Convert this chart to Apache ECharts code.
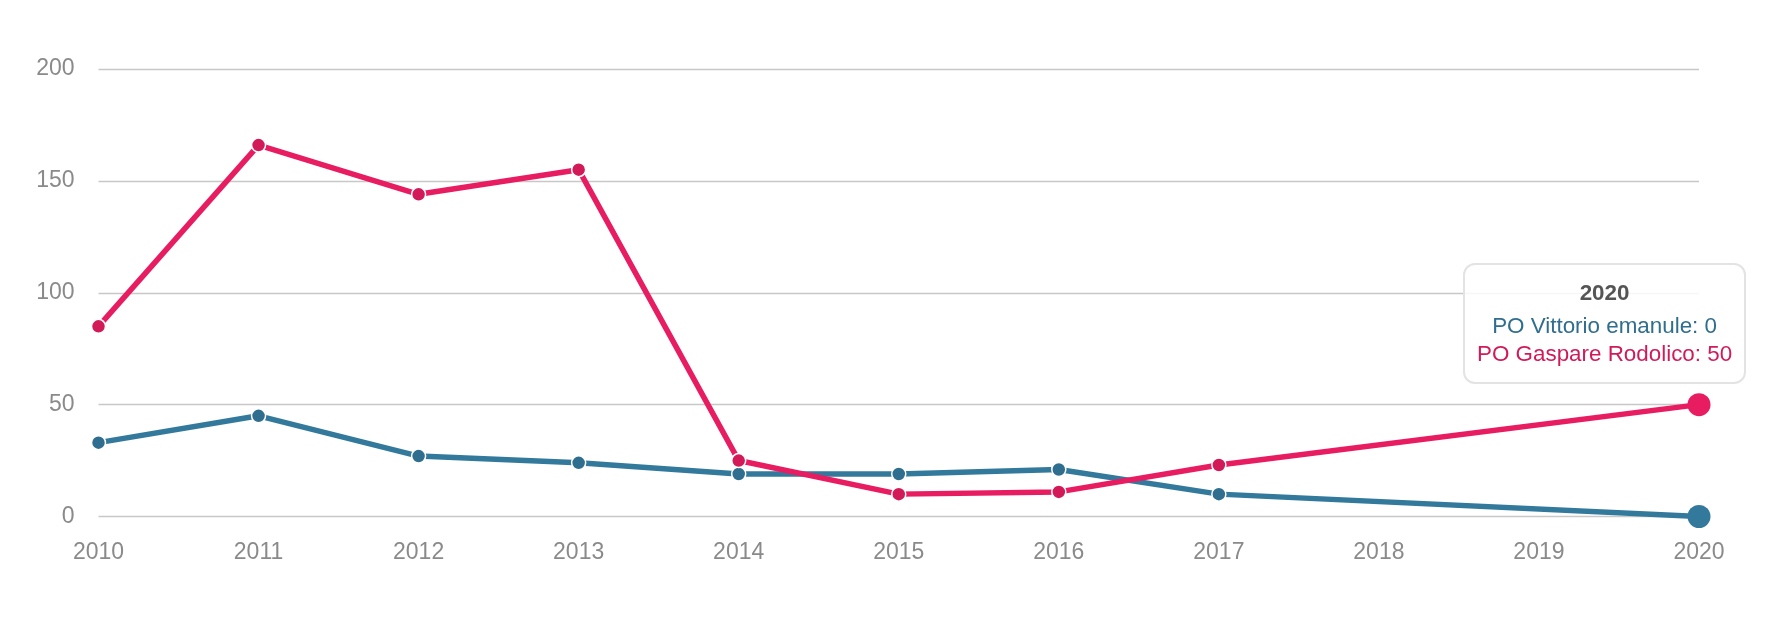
<!DOCTYPE html>
<html>
<head>
<meta charset="utf-8">
<script src="https://cdn.jsdelivr.net/npm/echarts@6/dist/echarts.min.js"></script>
<style>
html,body{margin:0;padding:0;background:#fff;}
#chart{width:1776px;height:633px;}
</style>
</head>
<body>
<div id="chart"></div>
<script>
const years = ['2010','2011','2012','2013','2014','2015','2016','2017','2018','2019','2020'];
const vittorio = [33, 45, 27, 24, 19, 19, 21, 10, null, null, 0];
const gaspare = [85, 166, 144, 155, 25, 10, 11, 23, null, null, 50];
const seriesNames = ['PO Vittorio emanule', 'PO Gaspare Rodolico'];
const seriesColors = ['#2f6e8e', '#d31a59'];
const yTicks = [0, 50, 100, 150, 200];
const tipIndex = 10;

const FONT = '"Liberation Sans", Arial, sans-serif';

function buildData(arr, color) {
  return arr.map((v, i) => {
    if (i === tipIndex) {
      return { value: v, symbolSize: 23, itemStyle: { color: color, borderWidth: 0 } };
    }
    return v;
  });
}

const chart = echarts.init(document.getElementById('chart'), null, { renderer: 'canvas' });
const option = {
  animation: false,
  textStyle: { fontFamily: FONT },
  grid: { left: 98.5, right: 77, top: 69, bottom: 116.5, containLabel: false },
  tooltip: {
    trigger: 'axis',
    alwaysShowContent: true,
    axisPointer: { type: 'none' },
    backgroundColor: 'rgba(255,255,255,0.85)',
    borderColor: '#e3e3e3',
    borderWidth: 2,
    borderRadius: 12,
    padding: [14, 12],
    extraCssText: 'box-shadow:none;text-align:center;',
    position: function () { return [1463, 263]; },
    formatter: function (params) {
      let s = '<div style="font-family:' + FONT.replace(/"/g, "'") + ';font-size:22.4px;line-height:28px;text-align:center;">';
      s += '<div style="font-weight:bold;color:#555;margin-bottom:5px;">' + params[0].axisValue + '</div>';
      params.forEach(p => {
        s += '<div style="color:' + seriesColors[p.seriesIndex] + ';">' + p.seriesName + ': ' + p.value + '</div>';
      });
      s += '</div>';
      return s;
    }
  },
  xAxis: {
    type: 'category',
    data: years,
    boundaryGap: false,
    axisLine: { show: false },
    axisTick: { show: false },
    axisLabel: { color: '#8a8a8a', fontSize: 23, margin: 25, fontFamily: FONT },
    splitLine: { show: false }
  },
  yAxis: {
    type: 'value',
    min: yTicks[0],
    max: yTicks[yTicks.length - 1],
    interval: 50,
    axisLine: { show: false },
    axisTick: { show: false },
    axisLabel: { color: '#8a8a8a', fontSize: 23, margin: 24, fontFamily: FONT },
    splitLine: { lineStyle: { color: '#c8c8c8', width: 1.3 } }
  },
  series: [
    {
      name: seriesNames[0],
      type: 'line',
      data: buildData(vittorio, seriesColors[0]),
      connectNulls: true,
      symbol: 'circle',
      symbolSize: 14,
      showAllSymbol: true,
      lineStyle: { color: seriesColors[0], width: 5.5 },
      itemStyle: { color: seriesColors[0], borderColor: '#fff', borderWidth: 1.5 },
      emphasis: { scale: false }
    },
    {
      name: seriesNames[1],
      type: 'line',
      data: buildData(gaspare, seriesColors[1]),
      connectNulls: true,
      symbol: 'circle',
      symbolSize: 14,
      showAllSymbol: true,
      lineStyle: { color: seriesColors[1], width: 5.5 },
      itemStyle: { color: seriesColors[1], borderColor: '#fff', borderWidth: 1.5 },
      emphasis: { scale: false }
    }
  ]
};
chart.setOption(option);
chart.dispatchAction({ type: 'showTip', seriesIndex: 1, dataIndex: tipIndex });
</script>
</body>
</html>
